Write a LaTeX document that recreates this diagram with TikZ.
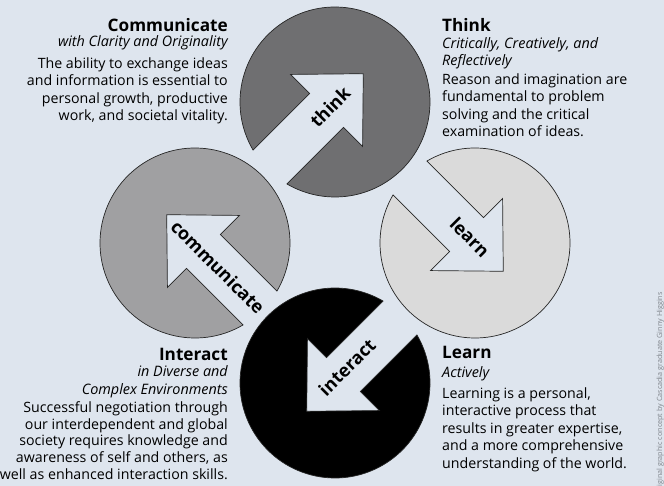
\documentclass[tikz,border=0pt]{standalone}
\usepackage{fontspec}
\setmainfont{Open Sans}
\definecolor{bgblue}{HTML}{DEE5EE}
\definecolor{thinkgray}{HTML}{6F6F71}
\definecolor{commgray}{HTML}{A0A0A2}
\definecolor{learngray}{HTML}{DADADA}
\definecolor{creditgray}{HTML}{80858C}

\begin{document}
\begin{tikzpicture}[x=1pt, y=1pt,
    heading/.style={font=\fontsize{17.2}{20}\selectfont\bfseries, inner sep=0pt},
    subhead/.style={font=\fontsize{14.4}{17.5}\selectfont\itshape, inner sep=0pt},
    bodytext/.style={font=\fontsize{14.2}{17.5}\selectfont, inner sep=0pt},
    armlabel/.style={font=\fontsize{18}{20}\selectfont\bfseries, inner sep=0pt},
    disc/.style={draw=black!85, line width=0.7pt}]
 	\fill[bgblue] (0,0) rectangle (664,-486);
 	\useasboundingbox (0,0) rectangle (664,-486);
 	% discs with the arrow cut out
 	\foreach \cx/\cy/\ang/\col in {335/-102/45/thinkgray, 475/-243/-45/learngray,
 	    335/-383/-135/black, 195/-243/135/commgray}
 	  \path[disc, fill=\col, shift={(\cx,\cy)}, rotate=\ang]
 	    (165.36:95) arc[start angle=165.36, end angle=-165.36, radius=95]
 	    -- (-12,-24) -- (-12,-51) -- (40,0) -- (-12,51) -- (-12,24) -- cycle;
 	\node[armlabel, rotate=45] (thinklbl) at (330,-107) {think};
 	\node[armlabel, rotate=-45] (learnlbl) at (470,-237) {learn};
 	\node[armlabel, rotate=45] (interlbl) at (347,-367) {interact};
 	\node[armlabel, rotate=-45] (commlbl) at (218,-267) {communicate};
 	% top left
 	\node[heading, anchor=base east] (commhead) at (228,-32) {Communicate};
 	\node[subhead, anchor=base east] (commsub) at (228,-47) {with Clarity and Originality};
 	\node[bodytext, align=right, anchor=base east] (commbody) at (228,-121)
 	  {The ability to exchange ideas\\and information is essential to\\personal growth, productive\\work, and societal vitality.};
 	% top right
 	\node[heading, anchor=base west] (thinkhead) at (442,-32) {Think};
 	\node[subhead, align=left, anchor=base west] (thinksub) at (442,-66)
 	  {Critically, Creatively, and\\Reflectively};
 	\node[bodytext, align=left, anchor=base west] (thinkbody) at (442,-137)
 	  {Reason and imagination are\\fundamental to problem\\solving and the critical\\examination of ideas.};
 	% bottom left
 	\node[heading, anchor=base east] (interhead) at (228,-360) {Interact};
 	\node[subhead, align=right, anchor=base east] (intersub) at (228,-394)
 	  {in Diverse and\\Complex Environments};
 	\node[bodytext, align=right, anchor=base east, font=\fontsize{14.2}{16.6}\selectfont] (interbody) at (228,-479)
 	  {Successful negotiation through\\our interdependent and global\\society requires knowledge and\\awareness of self and others, as\\well as enhanced interaction skills.};
 	% bottom right
 	\node[heading, anchor=base west] (learnhead) at (442,-358) {Learn};
 	\node[subhead, anchor=base west] (learnsub) at (442,-377) {Actively};
 	\node[bodytext, align=left, anchor=base west] (learnbody) at (442,-468)
 	  {Learning is a personal,\\interactive process that\\results in greater expertise,\\and a more comprehensive\\understanding of the world.};
 	% credit
 	\node[font=\fontsize{7.2}{8}\selectfont, text=creditgray, rotate=90, anchor=base east, inner sep=0pt]
 	  (credit) at (662,-292) {iginal graphic concept by Cascadia graduate Ginny Higgins};
\end{tikzpicture}
\end{document}
